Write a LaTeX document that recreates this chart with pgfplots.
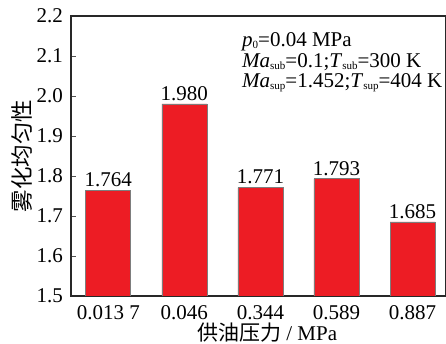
\documentclass[border=0pt]{standalone}
\usepackage{pgfplots}
\pgfplotsset{compat=1.18}
\usepackage{fontspec}
\setmainfont{Liberation Serif}
\newfontfamily\cjk{Noto Sans CJK SC}
\definecolor{barred}{RGB}{237,28,36}
\definecolor{edgegray}{RGB}{125,125,125}
\definecolor{axisdark}{RGB}{40,40,40}
\newcommand\sbs[1]{\raisebox{-2pt}{\fontsize{11}{12}\selectfont #1}}
\newcommand\chartfont{\fontsize{21}{24}\selectfont}

\pgfplotstableread{
x y lab
0 1.764 1.764
1 1.980 1.980
2 1.771 1.771
3 1.793 1.793
4 1.685 1.685
}\uniformity

\begin{document}
\chartfont
\begin{tikzpicture}
\begin{axis}[
  scale only axis,
  width=375pt, height=280pt,
  xmin=-0.49, xmax=4.44,
  ymin=1.5, ymax=2.2,
  ybar,
  ytick={1.5,1.6,1.7,1.8,1.9,2.0,2.1,2.2},
  yticklabel style={/pgf/number format/fixed, /pgf/number format/fixed zerofill, /pgf/number format/precision=1, xshift=-1pt},
  /pgf/number format/assume math mode=true,
  xtick=data,
  xticklabels={0.013 7,0.046,0.344,0.589,0.887},
  xtick pos=bottom, ytick pos=left,
  tick align=inside,
  major tick length=5pt,
  tick style={color=axisdark!80, line width=0.8pt},
  axis line style={line width=1.2pt, color=axisdark},
  ticklabel style={font=\chartfont},
  xticklabel style={yshift=-2pt, text height=14pt, text depth=0pt},
  ylabel={\cjk 雾化均匀性},
  ylabel style={at={(axis description cs:-0.131,0.5)}, anchor=center, font=\fontsize{22.5}{24}\selectfont},
  xlabel={{\cjk 供油压力} / MPa},
  xlabel style={at={(axis description cs:0.523,-0.16)}, anchor=base, inner sep=0pt, text height=15pt, text depth=0pt, font=\fontsize{21}{24}\selectfont},
]
\addplot[ybar, bar width=45pt, fill=barred, draw=edgegray, line width=0.6pt,
  nodes near coords, point meta=explicit symbolic,
  nodes near coords style={font=\chartfont, text=black, anchor=south, inner sep=1pt, yshift=2pt}]
  table[x=x, y=y, meta=lab] {\uniformity};
\end{axis}
% operating conditions
\begin{scope}[every node/.style={anchor=base west, inner sep=0pt, text height=14pt, text depth=3pt}]
\node at (171pt,249pt) {\textit{p}\sbs{0}=0.04 MPa};
\node at (171pt,228pt) {\textit{Ma}\sbs{sub}=0.1;\textit{T}\sbs{sub}=300 K};
\node at (171pt,208pt) {\textit{Ma}\sbs{sup}=1.452;\textit{T}\sbs{sup}=404 K};
\end{scope}
\pgfresetboundingbox
\path[use as bounding box] (-71pt,-48pt) rectangle (375pt,296pt);
\end{tikzpicture}
\end{document}
